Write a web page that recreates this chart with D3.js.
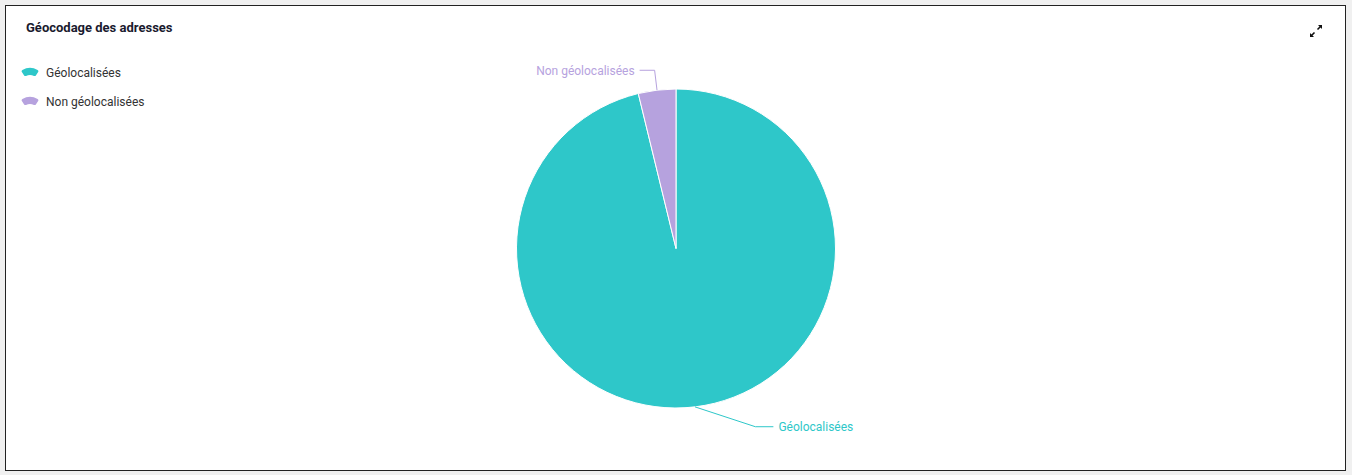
<!DOCTYPE html>
<html><head><meta charset="utf-8">
<script src="https://cdn.jsdelivr.net/npm/d3@7"></script>
<style>
html,body{margin:0;padding:0;background:#f0f0f0;}
svg{display:block;font-family:Roboto, "Noto Sans", sans-serif;}
</style></head>
<body>
<svg id="c" width="1352" height="475"></svg>
<script>
const title = "Géocodage des adresses";
const categories = ["Géolocalisées", "Non géolocalisées"];
const values = [96.2, 3.8];
const colors = ["#2ec7c9", "#b6a2de"];

const svg = d3.select("#c");
svg.append("rect").attr("x",5.5).attr("y",5.5).attr("width",1340).attr("height",465)
  .attr("fill","#fff").attr("stroke","#222").attr("stroke-width",1);

svg.append("text").attr("x",26).attr("y",32).attr("font-size",13).attr("font-weight",700)
  .attr("fill","#1a1a2e").text(title);

// expand icon
const ic = svg.append("g").attr("transform","translate(1316,31)").attr("fill","#111").attr("stroke","#111");
ic.append("path").attr("d","M1.5,-1.5 L5,-5").attr("stroke-width",1.6);
ic.append("path").attr("d","M2,-6 L6,-6 L6,-2 Z").attr("stroke","none");
ic.append("path").attr("d","M-1.5,1.5 L-5,5").attr("stroke-width",1.6);
ic.append("path").attr("d","M-2,6 L-6,6 L-6,2 Z").attr("stroke","none");

// legend
const iconArc = d3.arc().innerRadius(9).outerRadius(16).startAngle(-0.6).endAngle(0.6).cornerRadius(1.5);
const legend = svg.append("g");
categories.forEach((c,i)=>{
  const y = 72 + i*29;
  legend.append("path").attr("d", iconArc()).attr("fill", colors[i])
    .attr("transform", `translate(30,${y+12})`);
  legend.append("text").attr("x",46).attr("y",y+4.5).attr("font-size",12).attr("fill","#333").text(c);
});

// pie
const cx = 676, cy = 248.5, r = 159.5;
const pie = d3.pie().sort(null).value(d=>d)(values);
const arc = d3.arc().innerRadius(0).outerRadius(r);
const g = svg.append("g").attr("transform",`translate(${cx},${cy})`);
g.selectAll("path.s").data(pie).join("path").attr("class","s")
  .attr("d",arc).attr("fill",(d,i)=>colors[i]).attr("stroke","#fff").attr("stroke-width",1);

// label layout (offsets only)
const len1 = 20, len2 = 15;
const shiftX = [58, 0];
pie.forEach((d,i)=>{
  const a = (d.startAngle + d.endAngle)/2;
  const p0 = [Math.sin(a)*r, -Math.cos(a)*r];
  const p1 = [Math.sin(a)*(r+len1) + shiftX[i], -Math.cos(a)*(r+len1)];
  const dir = Math.sin(a) + shiftX[i] >= 0 ? 1 : -1;
  const p2 = [p1[0] + dir*len2*(i===0?1.2:1), p1[1]];
  g.append("polyline").attr("points",[p0,p1,p2].map(p=>p.join(",")).join(" "))
    .attr("fill","none").attr("stroke",colors[i]).attr("stroke-width",1);
  g.append("text").attr("x",p2[0]+dir*5).attr("y",p2[1]+4.3)
    .attr("text-anchor",dir>0?"start":"end").attr("font-size",12).attr("fill",colors[i]).text(categories[i]);
});
</script>
</body></html>
